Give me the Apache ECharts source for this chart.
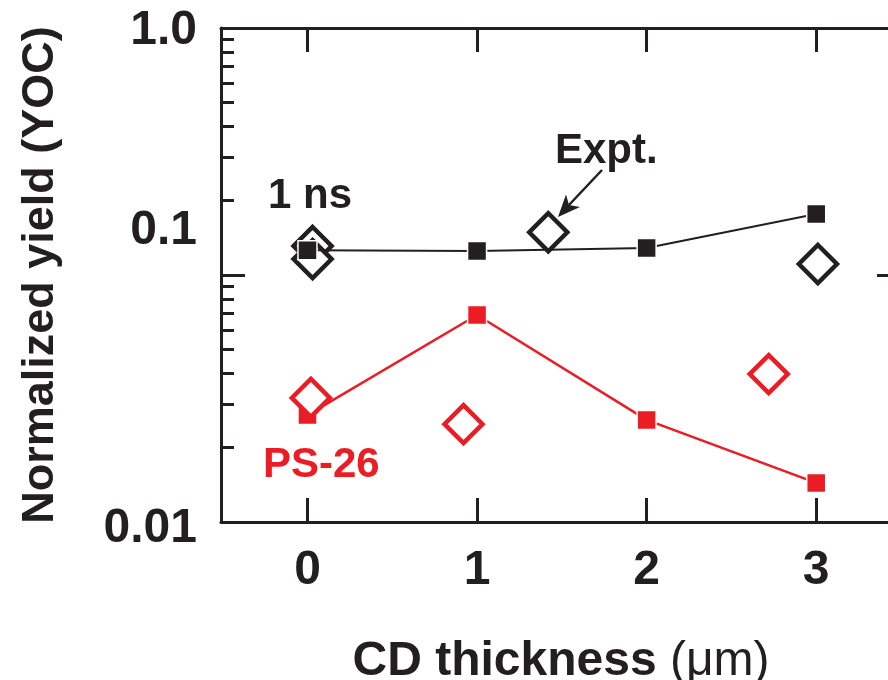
<!DOCTYPE html>
<html><head><meta charset="utf-8">
<script src="https://cdn.jsdelivr.net/npm/echarts@6/dist/echarts.min.js"></script>
<style>html,body{margin:0;padding:0;background:#fff}#c{width:888px;height:680px}</style>
</head><body><div id="c"></div>
<script>
// ---- data ----
const xTickValues = [0, 1, 2, 3];
const yMinorTickValues = [0.02,0.03,0.04,0.05,0.06,0.07,0.08,0.09,0.2,0.3,0.4,0.5,0.6,0.7,0.8,0.9];
const yLabelText = { '-2': '0.01', '-1': '0.1', '0': '1.0' };
const simX = [0, 1, 2, 3];
const sim1nsY = [0.126, 0.125, 0.1286, 0.1766];
const simPS26Y = [0.0271, 0.0689, 0.0259, 0.0144];
const expt1nsX = [0.03, 0.03, 1.42, 3.01];
const expt1nsY = [0.131, 0.116, 0.149, 0.1108];
const exptPS26X = [0.02, 0.92, 2.72];
const exptPS26Y = [0.0318, 0.0249, 0.0397];

const INK = '#231f20', RED = '#ec1c24';
const FONT = "'Liberation Sans', Arial, Helvetica, sans-serif";
const zip = (xs, ys) => xs.map((x, i) => [x, ys[i]]);

const chart = echarts.init(document.getElementById('c'), null, { renderer: 'canvas' });

const axisLine = { show: true, onZero: false, lineStyle: { color: INK, width: 3 } };
const lbl = { fontFamily: FONT, fontWeight: 'bold', fontSize: 48, color: INK };

const option = {
  backgroundColor: '#fff',
  animation: false,
  grid: { left: 221, right: -13, top: 28, bottom: 158, containLabel: false, outerBoundsMode: 'none' },
  xAxis: [
    {
      type: 'value', position: 'bottom', min: -0.51, max: 3.5,
      axisLine: axisLine,
      axisTick: { show: true, inside: true, length: 24, customValues: xTickValues, lineStyle: { color: INK, width: 3 } },
      axisLabel: Object.assign({ show: true, customValues: xTickValues, margin: 25 }, lbl),
      splitLine: { show: false },
      name: '{b|CD thickness }{r|(μm)}', nameLocation: 'middle', nameGap: 116,
      nameTextStyle: { rich: {
        b: { fontFamily: FONT, fontWeight: 'bold', fontSize: 48, color: INK },
        r: { fontFamily: FONT, fontWeight: 'normal', fontSize: 48, color: INK }
      } }
    },
    {
      type: 'value', position: 'top', min: -0.51, max: 3.5,
      axisLine: axisLine,
      axisTick: { show: true, inside: true, length: 24, customValues: xTickValues, lineStyle: { color: INK, width: 3 } },
      axisLabel: { show: false },
      splitLine: { show: false }
    }
  ],
  yAxis: [
    {
      type: 'log', logBase: 10, position: 'left', min: 0.01, max: 1,
      axisLine: axisLine,
      axisTick: { show: true, inside: true, length: 24, lineStyle: { color: INK, width: 3 } },
      minorTick: { show: false },
      axisLabel: {
        show: true, margin: 24, color: INK, fontFamily: FONT, fontWeight: 'bold', fontSize: 48,
        formatter: function (v) {
          const k = String(Math.round(Math.log10(v)));
          const t = yLabelText[k];
          if (k === '-1') return '{up|' + t + '}';
          if (k === '0') return '{top|' + t + '}';
          return '{bot|' + t + '}';
        },
        rich: {
          top: Object.assign({ padding: [6, 0, 0, 0] }, lbl),
          up: Object.assign({ padding: [0, 0, 88, 0] }, lbl),
          bot: Object.assign({ padding: [14, 0, 0, 0] }, lbl)
        }
      },
      splitLine: { show: false },
      name: 'Normalized yield (YOC)', nameLocation: 'middle', nameRotate: 90, nameGap: 158,
      nameTextStyle: { fontFamily: FONT, fontWeight: 'bold', fontSize: 45, color: INK }
    },
    {
      type: 'value', position: 'left', min: -2, max: 0, offset: 0,
      axisLine: { show: false, onZero: false },
      axisTick: { show: true, inside: true, length: 13, customValues: yMinorTickValues.map(Math.log10), lineStyle: { color: INK, width: 3 } },
      axisLabel: { show: false },
      splitLine: { show: false }
    },
    {
      type: 'log', logBase: 10, position: 'right', min: 0.01, max: 1,
      axisLine: axisLine,
      axisTick: { show: true, inside: true, length: 24, lineStyle: { color: INK, width: 3 } },
      axisLabel: { show: false },
      splitLine: { show: false }
    }
  ],
  series: [
    {
      name: 'PS-26 sim', type: 'line', xAxisIndex: 0, yAxisIndex: 0, z: 2,
      data: zip(simX, simPS26Y),
      symbol: 'rect', symbolSize: 19,
      lineStyle: { color: RED, width: 2.5 },
      itemStyle: { color: RED, borderColor: '#fff', borderWidth: 1.5, opacity: 1 }
    },
    {
      name: 'PS-26 expt', type: 'scatter', xAxisIndex: 0, yAxisIndex: 0, z: 3,
      data: zip(exptPS26X, exptPS26Y),
      symbol: 'diamond', symbolSize: 38,
      itemStyle: { color: '#fff', borderColor: RED, borderWidth: 4.5, opacity: 1 }
    },
    {
      name: '1 ns expt', type: 'scatter', xAxisIndex: 0, yAxisIndex: 0, z: 2,
      data: zip(expt1nsX, expt1nsY),
      symbol: 'diamond', symbolSize: 38,
      itemStyle: { color: '#fff', borderColor: INK, borderWidth: 4.5, opacity: 1 }
    },
    {
      name: '1 ns sim', type: 'line', xAxisIndex: 0, yAxisIndex: 0, z: 3,
      data: zip(simX, sim1nsY),
      symbol: 'rect', symbolSize: 19,
      lineStyle: { color: INK, width: 2 },
      itemStyle: { color: INK, borderColor: '#fff', borderWidth: 1.5, opacity: 1 }
    }
  ],
  graphic: [
    { type: 'text', left: 268, top: 175, style: { text: '1 ns', fill: INK, font: "bold 42px " + FONT } },
    { type: 'text', left: 555, top: 130, style: { text: 'Expt.', fill: INK, font: "bold 42px " + FONT } },
    { type: 'text', left: 263, top: 444, style: { text: 'PS-26', fill: RED, font: "bold 42px " + FONT } },
    { type: 'polyline', shape: { points: [[602, 170], [569, 205]] }, style: { stroke: INK, lineWidth: 2.5, fill: null } },
    { type: 'polygon', shape: { points: [[558, 217], [566, 194.5], [569, 205], [580, 207]] }, style: { fill: INK } }
  ]
};
chart.setOption(option);
</script>
</body></html>
